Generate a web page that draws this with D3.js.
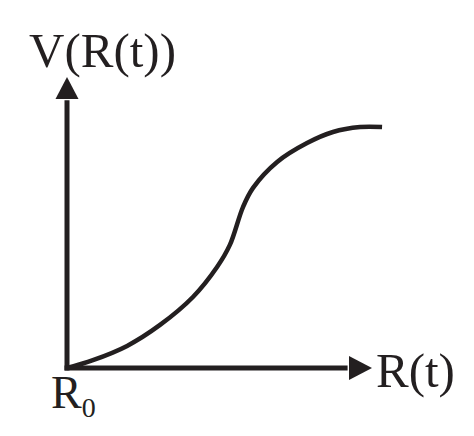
<!DOCTYPE html>
<html>
<head>
<meta charset="utf-8">
<script src="https://cdn.jsdelivr.net/npm/d3@7"></script>
<style>
  body { margin: 0; background: #fff; }
  text { font-family: "Liberation Serif", "Times New Roman", serif; fill: #231f20; }
</style>
</head>
<body>
<script>
// curve (axis units 0..100)
var rValues = [0, 8.5, 19.7, 30.5, 41.3, 49.2, 53.4, 57.7, 61.0, 68.9, 78.7, 87.2, 96.1, 103.3];
var vValues = [0, 2.7, 7.6, 14.8, 24.4, 34.7, 42.3, 55.3, 61.9, 70.8, 77.3, 81.1, 82.8, 82.8];
var xLabel = "R(t)";
var yLabel = "V(R(t))";
var originLabel = "R";
var originSub = "0";

var width = 474, height = 436;
var ink = "#231f20";

var x = d3.scaleLinear().domain([0, 100]).range([67, 372]);
var y = d3.scaleLinear().domain([0, 100]).range([368, 77]);

var svg = d3.select("body").append("svg")
    .attr("width", width)
    .attr("height", height);

// axes lines
svg.append("line")
    .attr("x1", x(0)).attr("x2", x(0))
    .attr("y1", y(0) + 2.5).attr("y2", y(92))
    .attr("stroke", ink).attr("stroke-width", 5);
svg.append("line")
    .attr("x1", x(0) - 2.5).attr("x2", x(92))
    .attr("y1", y(0)).attr("y2", y(0))
    .attr("stroke", ink).attr("stroke-width", 5);

// arrow heads
svg.append("path")
    .attr("d", "M" + x(0) + "," + y(100) +
               "L" + (x(0) + 11.5) + "," + (y(100) + 22) +
               "L" + (x(0) - 11.5) + "," + (y(100) + 22) + "Z")
    .attr("fill", ink);
svg.append("path")
    .attr("d", "M" + x(100) + "," + y(0) +
               "L" + (x(100) - 23) + "," + (y(0) - 12) +
               "L" + (x(100) - 23) + "," + (y(0) + 12) + "Z")
    .attr("fill", ink);

// curve
var pts = rValues.map(function(r, i) { return [r, vValues[i]]; });
var line = d3.line()
    .x(function(d) { return x(d[0]); })
    .y(function(d) { return y(d[1]); })
    .curve(d3.curveCatmullRom);

svg.append("path")
    .datum(pts)
    .attr("d", line)
    .attr("fill", "none")
    .attr("stroke", ink)
    .attr("stroke-width", 4.5)
    .attr("stroke-linecap", "butt");

// labels
svg.append("text")
    .attr("x", 29).attr("y", 67)
    .style("font-size", "49px")
    .text(yLabel);

svg.append("text")
    .attr("x", 376).attr("y", 387)
    .style("font-size", "49px")
    .text(xLabel);

var o = svg.append("text")
    .attr("x", 51).attr("y", 408)
    .style("font-size", "46px");
o.append("tspan").text(originLabel);
o.append("tspan")
    .attr("dy", 9)
    .style("font-size", "28px")
    .text(originSub);
</script>
</body>
</html>
